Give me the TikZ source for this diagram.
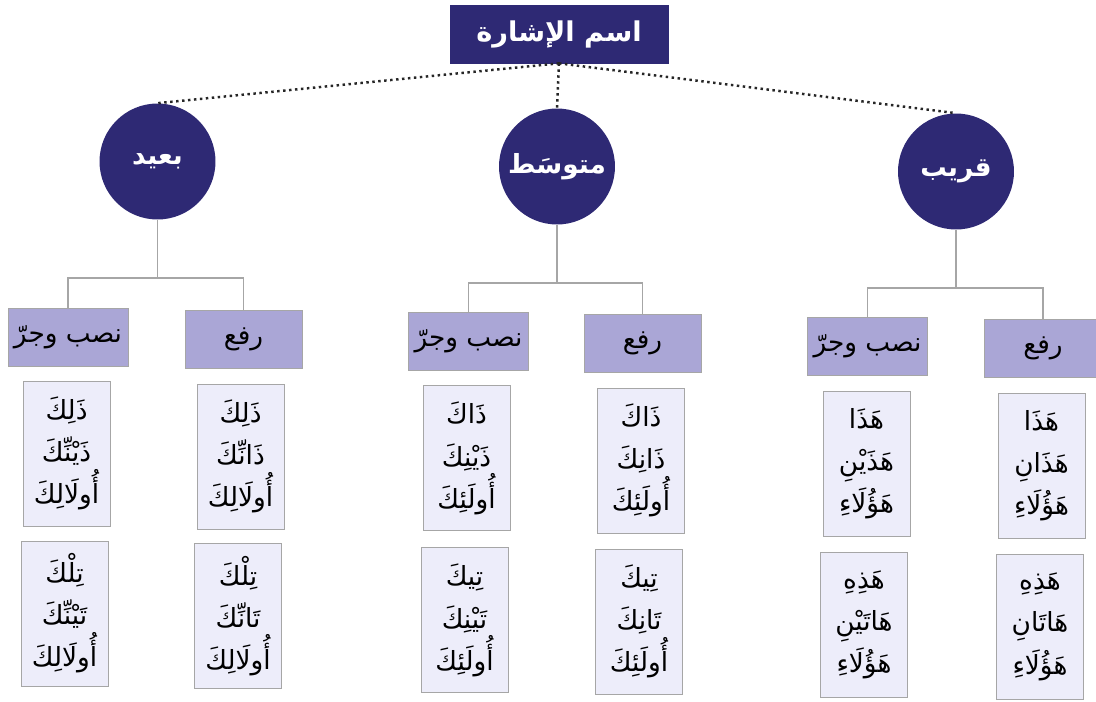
\documentclass[tikz,border=0pt]{standalone}
\usepackage{fontspec}
\newfontfamily\arabicfont[Script=Arabic]{DejaVu Sans}
\TeXXeTstate=1
\newcommand{\artext}[1]{\beginR #1\endR}
\definecolor{navy}{RGB}{46,41,116}
\definecolor{lilac}{RGB}{170,166,214}
\definecolor{paleblue}{RGB}{237,237,250}

\begin{document}
\begin{tikzpicture}[x=0.02cm, y=-0.02cm,
    title/.style={draw=navy, fill=navy, text=white, minimum width=4.36cm, minimum height=1.16cm, font=\arabicfont\bfseries\fontsize{15.5}{18}\selectfont},
    kind/.style={circle, fill=navy, text=white, minimum size=2.32cm, inner sep=0pt, font=\arabicfont\bfseries\fontsize{15}{18}\selectfont},
    casebox/.style={draw=gray!70, fill=lilac, minimum width=2.34cm, minimum height=1.16cm, font=\arabicfont\fontsize{15}{18}\selectfont},
    wordbox/.style={draw=gray!70, fill=paleblue, minimum width=1.74cm, minimum height=2.9cm, align=center, font=\arabicfont\fontsize{15}{24}\selectfont},
    tree/.style={draw=gray!70, line width=0.6pt},
    link/.style={dotted, line width=1.4pt, draw=black!85},
  ]
    \useasboundingbox (0,0) rectangle (1096,701);
    \node[title] (title) at (559,34) {\artext{اسم الإشارة}};
    \node[kind] (far)  at (157.5,161.5) {\artext{بعيد}};
    \node[kind] (mid)  at (557,166.5)   {\artext{متوسَط}};
    \node[kind] (near) at (956,171.5)   {\artext{قريب}};
    \node[casebox] (farN)  at (68,337)     {\artext{نصب وجرّ}};
    \node[casebox] (farR)  at (243.5,339)  {\artext{رفع}};
    \node[casebox] (midN)  at (468.5,341)  {\artext{نصب وجرّ}};
    \node[casebox] (midR)  at (642.5,343)  {\artext{رفع}};
    \node[casebox] (nearN) at (867.5,346.5) {\artext{نصب وجرّ}};
    \node[casebox] (nearR) at (1043,348)   {\artext{رفع}};
    \node[wordbox] (farN1)  at (66.5,453.5)  {\artext{ذَلِكَ}\\\artext{ذَيْنِّكَ}\\\artext{أُولَالِكَ}};
    \node[wordbox] (farN2)  at (64.5,613.5)  {\artext{تِلْكَ}\\\artext{تَيْنِّكَ}\\\artext{أُولَالِكَ}};
    \node[wordbox] (farR1)  at (240.5,456.5) {\artext{ذَلِكَ}\\\artext{ذَانِّكَ}\\\artext{أُولَالِكَ}};
    \node[wordbox] (farR2)  at (238,616)     {\artext{تِلْكَ}\\\artext{تَانِّكَ}\\\artext{أُولَالِكَ}};
    \node[wordbox] (midN1)  at (466.5,458)   {\artext{ذَاكَ}\\\artext{ذَيْنِكَ}\\\artext{أُولَئِكَ}};
    \node[wordbox] (midN2)  at (464.5,620)   {\artext{تِيكَ}\\\artext{تَيْنِكَ}\\\artext{أُولَئِكَ}};
    \node[wordbox] (midR1)  at (641,460.5)   {\artext{ذَاكَ}\\\artext{ذَانِكَ}\\\artext{أُولَئِكَ}};
    \node[wordbox] (midR2)  at (639,621.5)   {\artext{تِيكَ}\\\artext{تَانِكَ}\\\artext{أُولَئِكَ}};
    \node[wordbox] (nearN1) at (866.5,463.5) {\artext{هَذَا}\\\artext{هَذَيْنِ}\\\artext{هَؤُلَاءِ}};
    \node[wordbox] (nearN2) at (864,625)     {\artext{هَذِهِ}\\\artext{هَاتَيْنِ}\\\artext{هَؤُلَاءِ}};
    \node[wordbox] (nearR1) at (1041.5,465.5) {\artext{هَذَا}\\\artext{هَذَانِ}\\\artext{هَؤُلَاءِ}};
    \node[wordbox] (nearR2) at (1040,626.5)  {\artext{هَذِهِ}\\\artext{هَاتَانِ}\\\artext{هَؤُلَاءِ}};
    \coordinate (farJ)  at (157.5,278);
    \coordinate (midJ)  at (557,283);
    \coordinate (nearJ) at (956,288);
    \draw[link] (title.south) -- (far.north);
    \draw[link] (title.south) -- (mid.north);
    \draw[link] (title.south) -- (near.north);
    \draw[tree] (far.south) -- (farJ);
    \draw[tree] (farN.north) |- (farJ) -| (farR.north);
    \draw[tree] (mid.south) -- (midJ);
    \draw[tree] (midN.north) |- (midJ) -| (midR.north);
    \draw[tree] (near.south) -- (nearJ);
    \draw[tree] (nearN.north) |- (nearJ) -| (nearR.north);
\end{tikzpicture}
\end{document}
